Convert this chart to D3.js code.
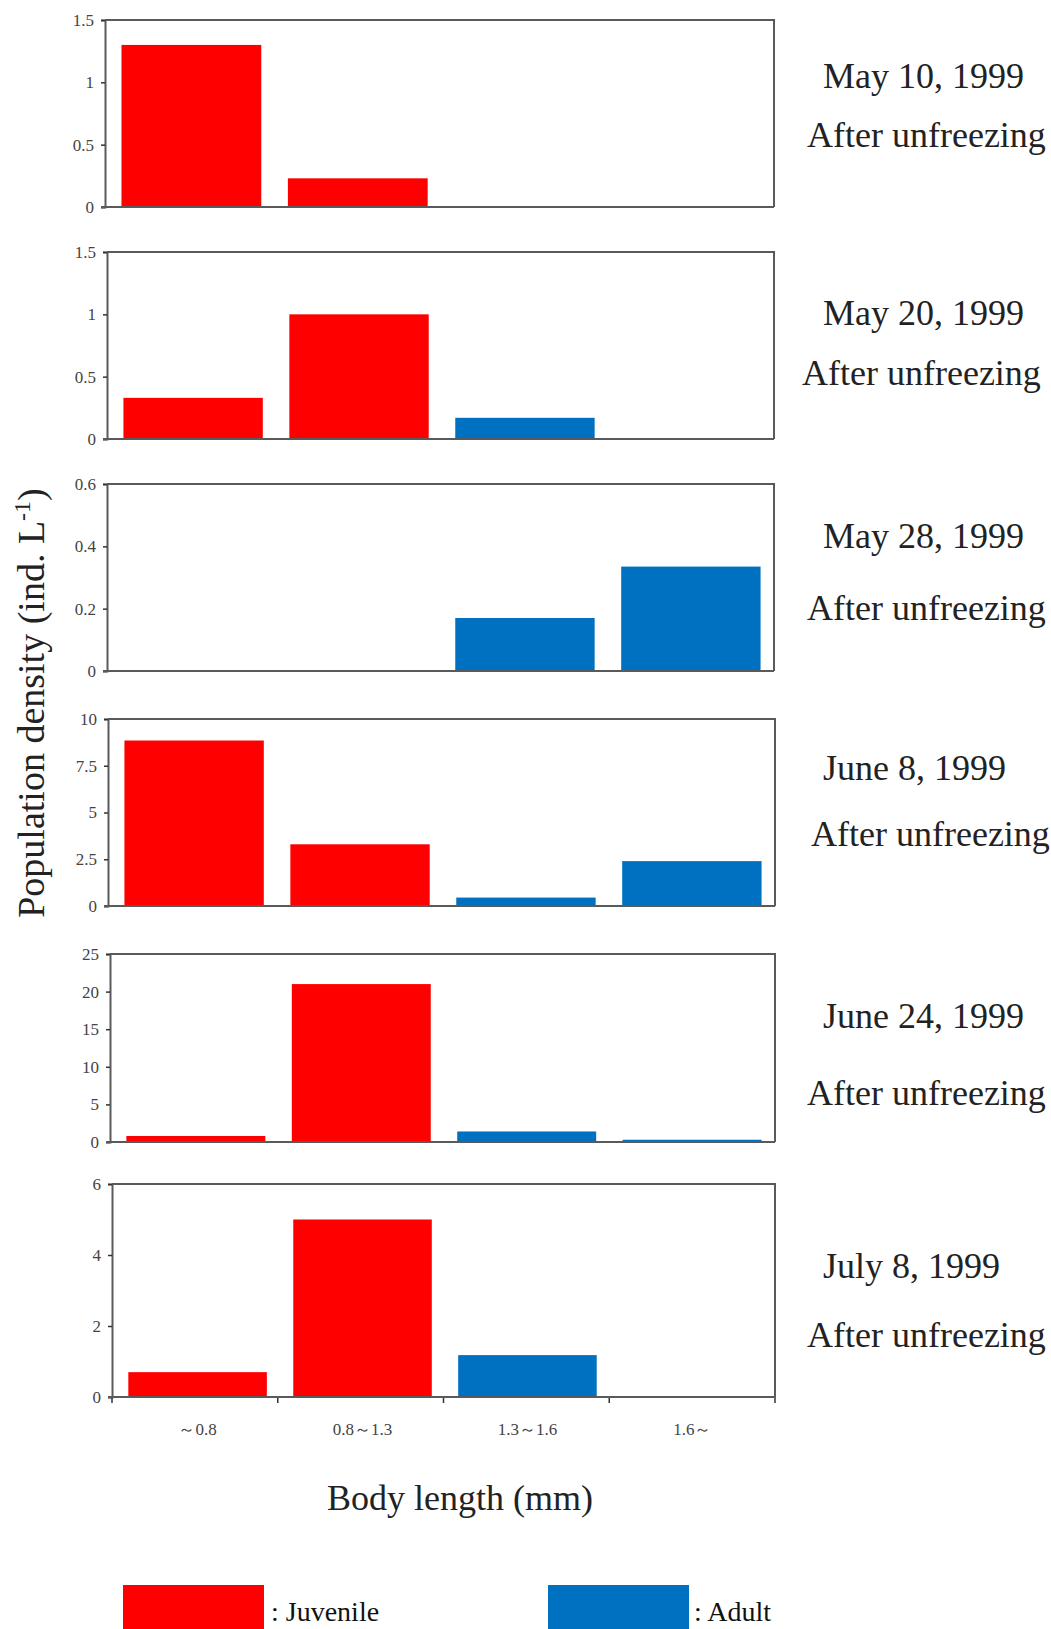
<!DOCTYPE html>
<html>
<head>
<meta charset="utf-8">
<script src="https://cdn.jsdelivr.net/npm/d3@7"></script>
<style>
  html, body { margin: 0; padding: 0; background: #fff; }
  svg { display: block; }
  text { font-family: "Liberation Serif", "Times New Roman", serif; }
</style>
</head>
<body>
<svg id="chart" width="1051" height="1629"></svg>
<script>
// ---------- data ----------
const categories = ["～0.8", "0.8～1.3", "1.3～1.6", "1.6～"];
const stageOfCategory = ["Juvenile", "Juvenile", "Adult", "Adult"];
const stages = ["Juvenile", "Adult"];
const dates = ["May 10, 1999", "May 20, 1999", "May 28, 1999", "June 8, 1999", "June 24, 1999", "July 8, 1999"];
const subtitle = "After unfreezing";

const may10 = [1.30, 0.23, 0, 0];
const may20 = [0.33, 1.00, 0.17, 0];
const may28 = [0, 0, 0.17, 0.335];
const jun8  = [8.85, 3.3, 0.45, 2.4];
const jun24 = [0.8, 21.0, 1.4, 0.3];
const jul8  = [0.7, 5.0, 1.18, 0];
const panelValues = [may10, may20, may28, jun8, jun24, jul8];

const yMax = [1.5, 1.5, 0.6, 10, 25, 6];
const yTicks = [
  [0, 0.5, 1, 1.5],
  [0, 0.5, 1, 1.5],
  [0, 0.2, 0.4, 0.6],
  [0, 2.5, 5, 7.5, 10],
  [0, 5, 10, 15, 20, 25],
  [0, 2, 4, 6]
];
const yTitle = "Population density (ind. L";
const yTitleSup = "-1";
const xTitle = "Body length (mm)";

// ---------- layout ----------
const layout = [
  { left: 105, right: 774, top: 20,   bottom: 207,  dateY: 88,   subY: 147,  dateX: 823, subX: 807 },
  { left: 107, right: 774, top: 252,  bottom: 439,  dateY: 325,  subY: 385,  dateX: 823, subX: 802 },
  { left: 107, right: 774, top: 484,  bottom: 671,  dateY: 548,  subY: 620,  dateX: 823, subX: 807 },
  { left: 108, right: 775, top: 719,  bottom: 906,  dateY: 780,  subY: 846,  dateX: 823, subX: 811 },
  { left: 110, right: 775, top: 954,  bottom: 1142, dateY: 1028, subY: 1105, dateX: 823, subX: 807 },
  { left: 112, right: 775, top: 1184, bottom: 1397, dateY: 1278, subY: 1347, dateX: 823, subX: 807 }
];
const color = d3.scaleOrdinal().domain(stages).range(["#FF0000", "#0070C0"]);
const frameColor = "#5a5a5a";
const padIn = 0.16, padOut = 0.09, bandAlign = 0.55;

const svg = d3.select("#chart");

layout.forEach((L, i) => {
  const x = d3.scaleBand().domain(categories).range([L.left, L.right])
    .paddingInner(padIn).paddingOuter(padOut).align(bandAlign);
  const y = d3.scaleLinear().domain([0, yMax[i]]).range([L.bottom, L.top]);
  const g = svg.append("g");

  // bars
  g.selectAll("rect.bar")
    .data(panelValues[i].map((v, j) => ({ cat: categories[j], v, stage: stageOfCategory[j] })))
    .join("rect")
    .attr("class", "bar")
    .attr("x", d => x(d.cat))
    .attr("width", x.bandwidth())
    .attr("y", d => y(d.v))
    .attr("height", d => y(0) - y(d.v))
    .attr("fill", d => color(d.stage));

  // frame (top & right)
  g.append("path")
    .attr("d", `M${L.left},${L.top}H${L.right}V${L.bottom}`)
    .attr("fill", "none").attr("stroke", frameColor).attr("stroke-width", 2);

  // y axis
  const yAxis = d3.axisLeft(y).tickValues(yTicks[i]).tickSize(4).tickPadding(7)
    .tickFormat(d => String(+d.toFixed(2)));
  const ya = g.append("g").attr("transform", `translate(${L.left},0)`).call(yAxis);
  ya.select(".domain").attr("stroke", frameColor).attr("stroke-width", 2);
  ya.selectAll(".tick line").attr("stroke", "#333").attr("stroke-width", 1.5);
  ya.selectAll(".tick text").attr("fill", "#444")
    .style("font-family", "'Liberation Serif', serif").style("font-size", "17px");

  // x axis (category ticks and labels on the last panel)
  if (i === layout.length - 1) {
    const xa = g.append("g").attr("transform", `translate(0,${L.bottom})`);
    const step = (L.right - L.left) / categories.length;
    const bounds = d3.range(categories.length + 1).map(k => L.left + k * step);
    xa.selectAll("line.xt").data(bounds).join("line")
      .attr("x1", d => d).attr("x2", d => d).attr("y1", 0).attr("y2", 6)
      .attr("stroke", "#333").attr("stroke-width", 1.5);
    xa.selectAll("text.xl").data(categories).join("text")
      .attr("x", d => x(d) + x.bandwidth() / 2)
      .attr("y", 38)
      .attr("text-anchor", "middle")
      .attr("fill", "#444")
      .style("font-size", "17px")
      .text(d => d);
  }
  g.append("line")
    .attr("x1", L.left - 4).attr("x2", L.right)
    .attr("y1", L.bottom).attr("y2", L.bottom)
    .attr("stroke", frameColor).attr("stroke-width", 2);

  // panel labels
  g.append("text").attr("x", L.dateX).attr("y", L.dateY)
    .attr("fill", "#222").style("font-size", "36px").text(dates[i]);
  g.append("text").attr("x", L.subX).attr("y", L.subY)
    .attr("fill", "#222").style("font-size", "36px").text(subtitle);
});

// y title
const yt = svg.append("text")
  .attr("transform", "translate(44,703) rotate(-90)")
  .attr("text-anchor", "middle")
  .attr("fill", "#222")
  .style("font-size", "38px");
yt.append("tspan").text(yTitle);
yt.append("tspan").attr("dy", -14).style("font-size", "24px").text(yTitleSup);
yt.append("tspan").attr("dy", 14).text(")");

// x title
svg.append("text")
  .attr("x", 460).attr("y", 1510)
  .attr("text-anchor", "middle")
  .attr("fill", "#222")
  .style("font-size", "36px")
  .text(xTitle);

// legend
const legendPos = [{ x: 123, tx: 271 }, { x: 548, tx: 694 }];
stages.forEach((s, k) => {
  svg.append("rect").attr("x", legendPos[k].x).attr("y", 1585)
    .attr("width", 141).attr("height", 50).attr("fill", color(s));
  svg.append("text").attr("x", legendPos[k].tx).attr("y", 1621)
    .attr("fill", "#111").style("font-size", "28px").text(": " + s);
});
</script>
</body>
</html>
